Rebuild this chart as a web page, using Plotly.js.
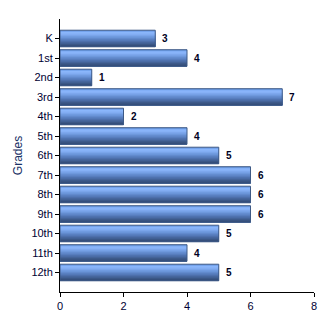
<!DOCTYPE html>
<html>
<head>
<meta charset="utf-8">
<script src="https://cdn.plot.ly/plotly-3.0.1.min.js"></script>
<style>html,body{margin:0;padding:0;background:#fff;}#chart{width:330px;height:330px;}</style>
</head>
<body>
<div id="chart"></div>
<script>
const grades = ["K","1st","2nd","3rd","4th","5th","6th","7th","8th","9th","10th","11th","12th"];
const counts = [3,4,1,7,2,4,5,6,6,6,5,4,5];
const xTicks = [0,2,4,6,8];

// vertical shading of each bar, top to bottom (style only)
const shades = ["#6d9de8","#8ab6fb","#86b1f6","#7aa5ea","#6e98dc","#628acd","#577dbd","#4d6fab","#446398","#3b5786","#344d78"];
const barW = 0.85;
const strip = barW / shades.length;
const traces = shades.map((c, i) => ({
  type: "bar", orientation: "h", y: grades, x: counts,
  width: barW - i*strip, offset: -barW/2 + i*strip,
  marker: {color: c, line: {width: 0}},
  hoverinfo: "skip", showlegend: false
}));
traces.push({
  type: "bar", orientation: "h", y: grades, x: counts,
  width: barW, offset: -barW/2,
  marker: {color: "rgba(0,0,0,0)", line: {color: "#3e5a86", width: 1}},
  showlegend: false
});

const labels = grades.map((g, i) => ({
  x: counts[i], y: g, xref: "x", yref: "y",
  text: String(counts[i]), showarrow: false,
  xanchor: "left", yanchor: "middle", xshift: 5,
  font: {family: "Liberation Sans, Arial, sans-serif", size: 10, color: "#000022", weight: "bold"}
}));

const layout = {
  width: 330, height: 330,
  margin: {l: 60, r: 16, t: 19, b: 38},
  paper_bgcolor: "#fff", plot_bgcolor: "#fff",
  barmode: "overlay",
  annotations: labels,
  font: {family: "Liberation Sans, Arial, sans-serif", size: 11, color: "#000033"},
  xaxis: {
    range: [0, 8], tickvals: xTicks, ticktext: xTicks.map(String),
    showgrid: false, zeroline: false, showline: true, linecolor: "#000", linewidth: 1,
    ticks: "outside", ticklen: 4, tickcolor: "#000", tickfont: {size: 11, color: "#000033"}
  },
  yaxis: {
    type: "category", categoryorder: "array", categoryarray: grades,
    range: [13, -1],
    showgrid: false, zeroline: false, showline: true, linecolor: "#000", linewidth: 1,
    ticks: "outside", ticklen: 4, tickcolor: "#000", tickfont: {size: 11, color: "#000033"},
    title: {text: "Grades", font: {size: 12, color: "#1a3266"}, standoff: 6}
  }
};
Plotly.newPlot("chart", traces, layout, {displayModeBar: false, staticPlot: true});
</script>
</body>
</html>
